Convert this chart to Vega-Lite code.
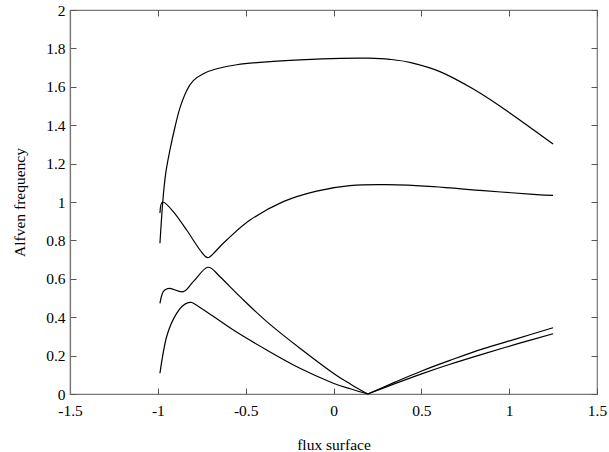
{
  "$schema": "https://vega.github.io/schema/vega-lite/v6.json",
  "width": 527,
  "height": 384,
  "autosize": {"type": "none"},
  "padding": {"left": 70, "top": 10, "right": 12, "bottom": 58},
  "background": "white",
  "config": {
    "font": "Liberation Serif",
    "view": {"stroke": "#777777", "strokeWidth": 1.2},
    "axis": {
      "labelFont": "Liberation Serif",
      "titleFont": "Liberation Serif",
      "labelFontSize": 15.5,
      "titleFontSize": 15.5,
      "titleFontWeight": "normal",
      "labelColor": "black",
      "titleColor": "black",
      "domainColor": "#777777",
      "domainWidth": 1.2,
      "tickColor": "#555555",
      "tickWidth": 1,
      "grid": false
    }
  },
  "data": {
    "values": [
      {"s": "A", "x": -0.988, "y": 0.785},
      {"s": "A", "x": -0.972, "y": 1.0},
      {"s": "A", "x": -0.955, "y": 1.15},
      {"s": "A", "x": -0.931, "y": 1.271},
      {"s": "A", "x": -0.902, "y": 1.392},
      {"s": "A", "x": -0.874, "y": 1.490},
      {"s": "A", "x": -0.836, "y": 1.580},
      {"s": "A", "x": -0.798, "y": 1.632},
      {"s": "A", "x": -0.741, "y": 1.668},
      {"s": "A", "x": -0.665, "y": 1.694},
      {"s": "A", "x": -0.551, "y": 1.715},
      {"s": "A", "x": -0.380, "y": 1.730},
      {"s": "A", "x": -0.191, "y": 1.740},
      {"s": "A", "x": 0.037, "y": 1.748},
      {"s": "A", "x": 0.200, "y": 1.749},
      {"s": "A", "x": 0.320, "y": 1.743},
      {"s": "A", "x": 0.440, "y": 1.726},
      {"s": "A", "x": 0.606, "y": 1.679},
      {"s": "A", "x": 0.796, "y": 1.588},
      {"s": "A", "x": 0.986, "y": 1.475},
      {"s": "A", "x": 1.250, "y": 1.302},

      {"s": "B", "x": -0.988, "y": 0.943},
      {"s": "B", "x": -0.972, "y": 1.0},
      {"s": "B", "x": -0.912, "y": 0.950},
      {"s": "B", "x": -0.836, "y": 0.854},
      {"s": "B", "x": -0.760, "y": 0.750},
      {"s": "B", "x": -0.716, "y": 0.710},
      {"s": "B", "x": -0.670, "y": 0.745},
      {"s": "B", "x": -0.608, "y": 0.802},
      {"s": "B", "x": -0.475, "y": 0.906},
      {"s": "B", "x": -0.286, "y": 1.002},
      {"s": "B", "x": -0.096, "y": 1.057},
      {"s": "B", "x": 0.094, "y": 1.085},
      {"s": "B", "x": 0.303, "y": 1.090},
      {"s": "B", "x": 0.568, "y": 1.080},
      {"s": "B", "x": 0.853, "y": 1.059},
      {"s": "B", "x": 1.137, "y": 1.040},
      {"s": "B", "x": 1.250, "y": 1.035},

      {"s": "C", "x": -0.988, "y": 0.472},
      {"s": "C", "x": -0.969, "y": 0.533},
      {"s": "C", "x": -0.931, "y": 0.550},
      {"s": "C", "x": -0.855, "y": 0.533},
      {"s": "C", "x": -0.798, "y": 0.585},
      {"s": "C", "x": -0.716, "y": 0.660},
      {"s": "C", "x": -0.646, "y": 0.611},
      {"s": "C", "x": -0.532, "y": 0.507},
      {"s": "C", "x": -0.380, "y": 0.377},
      {"s": "C", "x": -0.191, "y": 0.238},
      {"s": "C", "x": -0.001, "y": 0.108},
      {"s": "C", "x": 0.100, "y": 0.050},
      {"s": "C", "x": 0.195, "y": 0.0},

      {"s": "C2", "x": 0.195, "y": 0.0},
      {"s": "C2", "x": 0.350, "y": 0.062},
      {"s": "C2", "x": 0.502, "y": 0.120},
      {"s": "C2", "x": 0.663, "y": 0.175},
      {"s": "C2", "x": 0.850, "y": 0.235},
      {"s": "C2", "x": 1.050, "y": 0.290},
      {"s": "C2", "x": 1.250, "y": 0.345},

      {"s": "D", "x": -0.988, "y": 0.108},
      {"s": "D", "x": -0.950, "y": 0.298},
      {"s": "D", "x": -0.893, "y": 0.420},
      {"s": "D", "x": -0.827, "y": 0.476},
      {"s": "D", "x": -0.760, "y": 0.451},
      {"s": "D", "x": -0.570, "y": 0.333},
      {"s": "D", "x": -0.380, "y": 0.229},
      {"s": "D", "x": -0.191, "y": 0.134},
      {"s": "D", "x": -0.001, "y": 0.056},
      {"s": "D", "x": 0.100, "y": 0.026},
      {"s": "D", "x": 0.195, "y": 0.0},

      {"s": "D2", "x": 0.195, "y": 0.0},
      {"s": "D2", "x": 0.350, "y": 0.054},
      {"s": "D2", "x": 0.502, "y": 0.105},
      {"s": "D2", "x": 0.663, "y": 0.155},
      {"s": "D2", "x": 0.850, "y": 0.208},
      {"s": "D2", "x": 1.050, "y": 0.262},
      {"s": "D2", "x": 1.250, "y": 0.314}
    ]
  },
  "layer": [
    {
      "mark": {"type": "line", "color": "black", "strokeWidth": 1.2, "interpolate": "cardinal"},
      "encoding": {
        "x": {"field": "x", "type": "quantitative", "scale": {"domain": [-1.5, 1.5], "nice": false},
          "axis": {"orient": "bottom", "title": "flux surface", "values": [-1.5, -1, -0.5, 0, 0.5, 1, 1.5], "labelExpr": "datum.value + ''", "tickSize": -6, "labelPadding": 15, "titlePadding": 19, "labelFlush": false}},
        "y": {"field": "y", "type": "quantitative", "scale": {"domain": [0, 2], "nice": false},
          "axis": {"orient": "left", "title": "Alfven frequency", "values": [0, 0.2, 0.4, 0.6, 0.8, 1, 1.2, 1.4, 1.6, 1.8, 2], "labelExpr": "datum.value + ''", "tickSize": -6, "labelPadding": 11, "titlePadding": 18, "labelFlush": false}},
        "detail": {"field": "s", "type": "nominal"}
      }
    },
    {
      "mark": {"type": "line", "opacity": 0},
      "encoding": {
        "x": {"field": "x", "type": "quantitative", "scale": {"domain": [-1.5, 1.5], "nice": false},
          "axis": {"orient": "top", "title": null, "labels": false, "domain": false, "values": [-1.5, -1, -0.5, 0, 0.5, 1, 1.5], "tickSize": -6}},
        "y": {"field": "y", "type": "quantitative", "scale": {"domain": [0, 2], "nice": false},
          "axis": {"orient": "right", "title": null, "labels": false, "domain": false, "values": [0, 0.2, 0.4, 0.6, 0.8, 1, 1.2, 1.4, 1.6, 1.8, 2], "tickSize": -6}},
        "detail": {"field": "s", "type": "nominal"}
      }
    }
  ],
  "resolve": {"axis": {"x": "independent", "y": "independent"}}
}
